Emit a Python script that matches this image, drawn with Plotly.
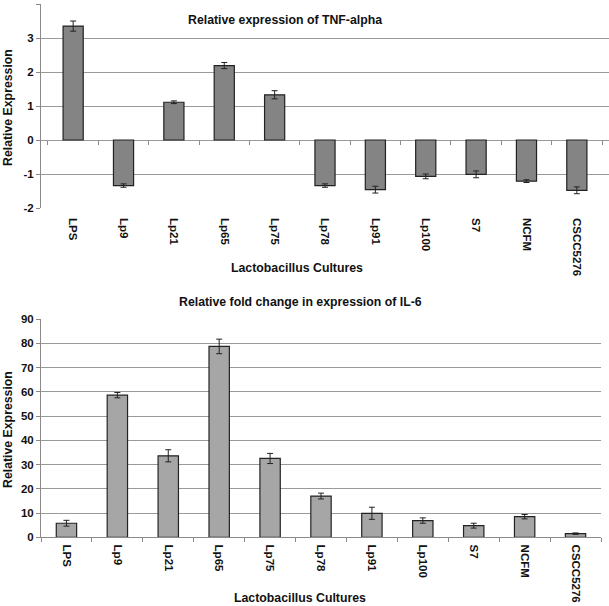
import plotly.graph_objects as go

categories = ["LPS", "Lp9", "Lp21", "Lp65", "Lp75", "Lp78", "Lp91", "Lp100", "S7", "NCFM", "CSCC5276"]
tnf_values = [3.35, -1.34, 1.11, 2.19, 1.33, -1.34, -1.46, -1.07, -1.01, -1.21, -1.48]
tnf_errors = [0.15, 0.05, 0.04, 0.09, 0.12, 0.05, 0.1, 0.07, 0.1, 0.04, 0.1]
il6_values = [5.8, 58.6, 33.6, 78.7, 32.5, 17.0, 9.9, 6.9, 4.8, 8.5, 1.5]
il6_errors = [1.2, 1.1, 2.5, 3.0, 2.1, 1.2, 2.5, 1.1, 1.0, 0.9, 0.3]
tnf_ticks = [-2, -1, 0, 1, 2, 3, 4]
tnf_tick_labels = ["-2", "-1", "0", "1", "2", "3", "4"]

title_top = "Relative expression of TNF-alpha"
title_bottom = "Relative fold change in expression of IL-6"
x_title = "Lactobacillus Cultures"
y_title = "Relative Expression"

W, H = 609, 606
def py(p):
    return (H - p) / H
def px(p):
    return p / W

FONT = "Liberation Sans, Arial, sans-serif"
grid = "#9a9a9a"
tickfont = dict(family=FONT, size=11.5, color="#111111", weight="bold")

fig = go.Figure()
fig.add_trace(go.Bar(
    x=categories, y=tnf_values, width=0.4,
    marker=dict(color="#848484", line=dict(color="#222222", width=1.2)),
    error_y=dict(type="data", array=tnf_errors, color="#222222", thickness=1, width=3),
    xaxis="x", yaxis="y", showlegend=False))
fig.add_trace(go.Bar(
    x=categories, y=il6_values, width=0.4,
    marker=dict(color="#a6a6a6", line=dict(color="#222222", width=1.2)),
    error_y=dict(type="data", array=il6_errors, color="#222222", thickness=1, width=3),
    xaxis="x2", yaxis="y2", showlegend=False))
# dummy trace so the zero-line tick axis is drawn
fig.add_trace(go.Scatter(x=categories, y=[None] * len(categories), xaxis="x3", yaxis="y",
                         showlegend=False, hoverinfo="skip"))

fig.update_layout(
    width=W, height=H,
    margin=dict(l=0, r=0, t=0, b=0, autoexpand=False),
    paper_bgcolor="white", plot_bgcolor="white",
    font=dict(family=FONT, color="#111111"),
    bargap=0.6,
    xaxis=dict(domain=[px(41), 1.0], anchor="y", tickangle=90, automargin=False,
               tickfont=tickfont, ticklabelstandoff=9,
               showgrid=False, zeroline=False, showline=False, ticks="", ticklen=0),
    yaxis=dict(domain=[py(208), py(4)], anchor="x", range=[-2, 4], automargin=False,
               tickvals=tnf_ticks, ticktext=tnf_tick_labels,
               showgrid=True, gridcolor=grid, gridwidth=1,
               zeroline=True, zerolinecolor=grid, zerolinewidth=1,
               showline=True, linecolor="#8a8a8a", linewidth=1,
               ticks="outside", ticklen=4, tickcolor="#8a8a8a",
               tickfont=tickfont),
    xaxis3=dict(domain=[px(41), 1.0], overlaying="x", anchor="free", position=py(140),
                matches="x", showticklabels=False, ticks="outside", tickson="boundaries",
                ticklen=4, tickcolor="#8a8a8a", showgrid=False, zeroline=False, showline=False),
    xaxis2=dict(domain=[px(41), px(601)], anchor="y2", tickangle=90, automargin=False,
                tickfont=tickfont, ticklabelstandoff=4,
                showgrid=False, zeroline=False, showline=True, linecolor="#8a8a8a",
                ticks="outside", tickson="boundaries", ticklen=4, tickcolor="#8a8a8a"),
    yaxis2=dict(domain=[py(537.3), py(319)], anchor="x2", range=[0, 90], dtick=10,
                automargin=False,
                showgrid=True, gridcolor=grid, gridwidth=1,
                zeroline=False, showline=True, linecolor="#8a8a8a", linewidth=1,
                ticks="outside", ticklen=4, tickcolor="#8a8a8a",
                tickfont=tickfont),
)

ann_font = dict(family=FONT, size=12.3, color="#111111", weight="bold")
fig.add_annotation(text=title_top, x=px(285), y=py(20), xref="paper", yref="paper",
                   showarrow=False, font=ann_font, xanchor="center", yanchor="middle")
fig.add_annotation(text=x_title, x=px(297), y=py(268), xref="paper", yref="paper",
                   showarrow=False, font=ann_font, xanchor="center", yanchor="middle")
fig.add_annotation(text=y_title, x=px(8), y=py(108), xref="paper", yref="paper",
                   showarrow=False, font=ann_font, textangle=-90, xanchor="center", yanchor="middle")
fig.add_annotation(text=title_bottom, x=px(300), y=py(302), xref="paper", yref="paper",
                   showarrow=False, font=ann_font, xanchor="center", yanchor="middle")
fig.add_annotation(text=x_title, x=px(300), y=py(598), xref="paper", yref="paper",
                   showarrow=False, font=ann_font, xanchor="center", yanchor="middle")
fig.add_annotation(text=y_title, x=px(8), y=py(430), xref="paper", yref="paper",
                   showarrow=False, font=ann_font, textangle=-90, xanchor="center", yanchor="middle")

fig.write_html("out.html", config={"displayModeBar": False},
               post_script="document.body.style.margin='0px';document.body.style.overflow='hidden';")
